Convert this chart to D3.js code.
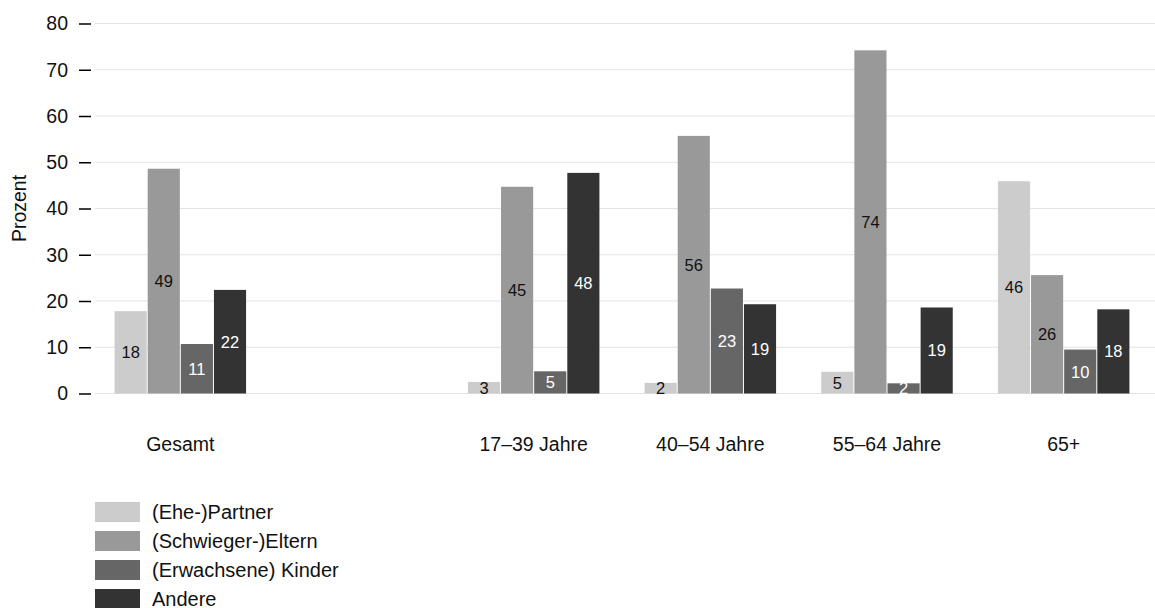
<!DOCTYPE html>
<html>
<head>
<meta charset="utf-8">
<script src="https://cdn.jsdelivr.net/npm/d3@7"></script>
<style>
  body { margin: 0; background: #fff; }
  text { font-family: "Liberation Sans", Arial, sans-serif; }
</style>
</head>
<body>
<div id="chart"></div>
<script>
// categories (an empty slot sits between "Gesamt" and the age groups)
const categories = ["Gesamt", "", "17–39 Jahre", "40–54 Jahre", "55–64 Jahre", "65+"];
const series = ["(Ehe-)Partner", "(Schwieger-)Eltern", "(Erwachsene) Kinder", "Andere"];
const colors = ["#cccccc", "#999999", "#666666", "#333333"];
const labelColors = ["#111", "#111", "#fff", "#fff"];

// values per category, in series order
const partner = [17.8, null, 2.5, 2.3, 4.7, 45.9];
const eltern = [48.6, null, 44.7, 55.7, 74.2, 25.6];
const kinder = [10.7, null, 4.8, 22.7, 2.2, 9.5];
const andere = [22.4, null, 47.7, 19.3, 18.6, 18.2];
const yTicks = [0, 10, 20, 30, 40, 50, 60, 70, 80];

const width = 1155, height = 608;
const seriesValues = [partner, eltern, kinder, andere];
const fontSize = "19.5px";

const svg = d3.select("#chart").append("svg")
  .attr("width", width)
  .attr("height", height);

const x = d3.scaleBand()
  .domain(categories.map((c, i) => i))
  .range([92, 1152])
  .paddingInner(0.25)
  .paddingOuter(0.125);

const xInner = d3.scaleBand()
  .domain(series.map((s, i) => i))
  .range([0, x.bandwidth()]);

const y = d3.scaleLinear()
  .domain([0, 80])
  .range([393.5, 23.5]);

// gridlines
svg.append("g")
  .selectAll("line")
  .data(yTicks)
  .enter()
  .append("line")
  .attr("x1", 95)
  .attr("x2", width)
  .attr("y1", d => y(d))
  .attr("y2", d => y(d))
  .style("stroke", "#e3e3e3")
  .style("stroke-width", 1.2);

// y axis: short dashes and labels
const yAxis = d3.axisLeft(y)
  .tickValues(yTicks)
  .tickSize(12)
  .tickPadding(11);

svg.append("g")
  .attr("transform", "translate(91,0)")
  .call(yAxis)
  .call(g => g.select(".domain").remove())
  .call(g => g.selectAll(".tick line").style("stroke", "#000").style("stroke-width", 1.5))
  .call(g => g.selectAll(".tick text")
    .style("font-size", fontSize)
    .style("fill", "#111")
    .style("font-family", "Liberation Sans, Arial, sans-serif"));

svg.append("text")
  .attr("transform", `translate(26,${y(40)}) rotate(-90)`)
  .attr("text-anchor", "middle")
  .style("font-size", fontSize)
  .style("fill", "#111")
  .text("Prozent");

// bars
const rows = [];
categories.forEach((c, ci) => {
  seriesValues.forEach((vals, si) => {
    if (vals[ci] != null) rows.push({ ci: ci, si: si, value: vals[ci] });
  });
});

const groups = svg.append("g");

groups.selectAll("rect")
  .data(rows)
  .enter()
  .append("rect")
  .attr("x", d => x(d.ci) + xInner(d.si) + 0.5)
  .attr("y", d => y(d.value))
  .attr("width", xInner.bandwidth() - 1)
  .attr("height", d => y(0) - y(d.value))
  .style("fill", d => colors[d.si]);

// value labels, centred inside each bar
groups.selectAll("text")
  .data(rows)
  .enter()
  .append("text")
  .attr("x", d => x(d.ci) + xInner(d.si) + xInner.bandwidth() / 2)
  .attr("y", d => (y(d.value) + y(0)) / 2 + 6)
  .attr("text-anchor", "middle")
  .style("font-size", "16.5px")
  .style("fill", d => labelColors[d.si])
  .text(d => Math.round(d.value));

// category labels
svg.append("g")
  .selectAll("text")
  .data(categories)
  .enter()
  .append("text")
  .attr("x", (d, i) => x(i) + x.bandwidth() / 2)
  .attr("y", 451)
  .attr("text-anchor", "middle")
  .style("font-size", fontSize)
  .style("fill", "#111")
  .text(d => d);

// legend
const legend = svg.append("g")
  .selectAll("g")
  .data(series)
  .enter()
  .append("g")
  .attr("transform", (d, i) => `translate(95,${502 + i * 29})`);

legend.append("rect")
  .attr("width", 45)
  .attr("height", 20)
  .style("fill", (d, i) => colors[i]);

legend.append("text")
  .attr("x", 57)
  .attr("y", 16.5)
  .style("font-size", "20px")
  .style("fill", "#111")
  .text(d => d);
</script>
</body>
</html>
